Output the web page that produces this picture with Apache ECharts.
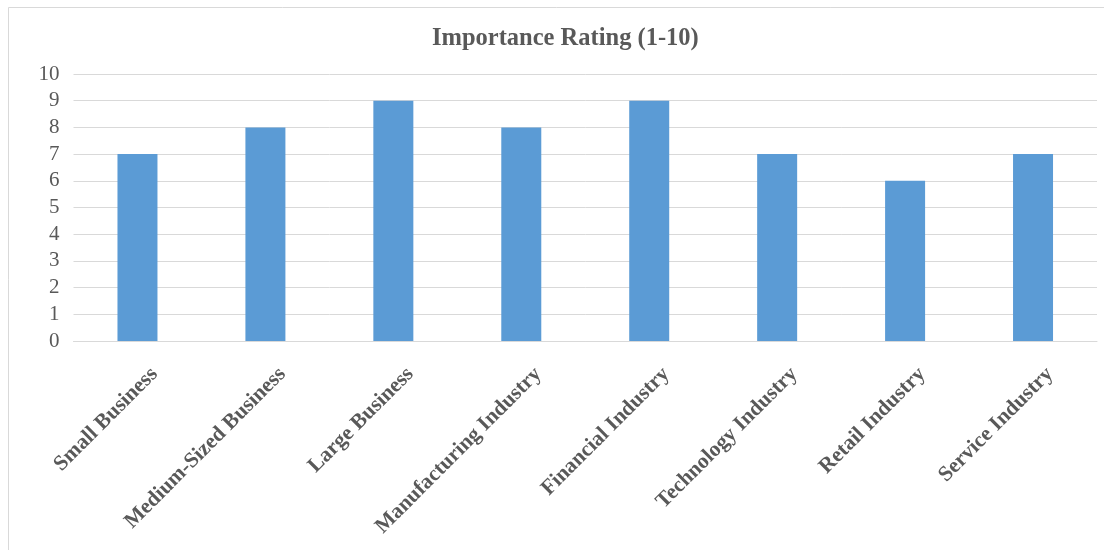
<!DOCTYPE html>
<html>
<head>
<meta charset="utf-8">
<script src="https://cdn.jsdelivr.net/npm/echarts@6/dist/echarts.min.js"></script>
<style>html,body{margin:0;padding:0;background:#fff;}#c{width:1104px;height:550px;}</style>
</head>
<body>
<div id="c"></div>
<script>
const categories = ["Small Business","Medium-Sized Business","Large Business","Manufacturing Industry","Financial Industry","Technology Industry","Retail Industry","Service Industry"];
const ratings = [7, 8, 9, 8, 9, 7, 6, 7];
const titleText = "Importance Rating (1-10)";

const chart = echarts.init(document.getElementById('c'));
chart.setOption({
  animation: false,
  backgroundColor: '#fff',
  graphic: [{
    type: 'rect',
    shape: { x: 8.5, y: 7.5, width: 1200, height: 700 },
    style: { fill: 'none', stroke: '#d9d9d9', lineWidth: 1 },
    silent: true
  }],
  title: {
    text: titleText,
    left: 427,
    top: 21,
    textStyle: { fontFamily: 'Liberation Serif', fontWeight: 'bold', fontSize: 24.5, color: '#595959' }
  },
  grid: { left: 73.5, right: 7, top: 74, bottom: 209, containLabel: false },
  xAxis: {
    type: 'category',
    data: categories,
    axisLine: { lineStyle: { color: '#d9d9d9' } },
    axisTick: { show: false },
    axisLabel: {
      rotate: 45,
      interval: 0,
      margin: 13,
      align: 'right',
      verticalAlign: 'top',
      lineHeight: 48,
      fontFamily: 'Liberation Serif',
      fontWeight: 'bold',
      fontSize: 21.5,
      color: '#595959'
    }
  },
  yAxis: {
    type: 'value',
    min: 0,
    max: 10,
    interval: 1,
    axisLine: { show: false },
    axisTick: { show: false },
    splitLine: { lineStyle: { color: '#d9d9d9' } },
    axisLabel: { fontFamily: 'Liberation Serif', fontSize: 21, color: '#595959', margin: 14 }
  },
  series: [{
    type: 'bar',
    data: ratings,
    barWidth: 40,
    itemStyle: { color: '#5B9BD5' }
  }]
});
</script>
</body>
</html>
